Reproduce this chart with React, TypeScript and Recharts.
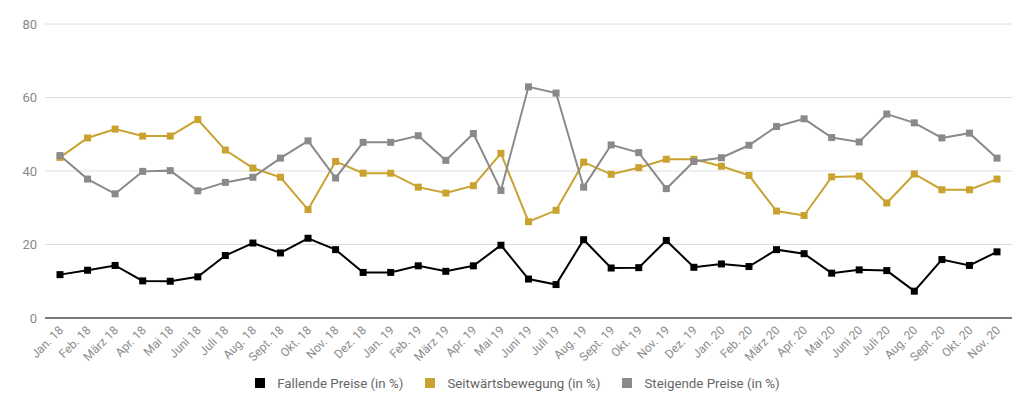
import { LineChart, Line, XAxis, YAxis, CartesianGrid, Legend } from 'recharts';

const months = [
  'Jan. 18', 'Feb. 18', 'März 18', 'Apr. 18', 'Mai 18', 'Juni 18', 'Juli 18', 'Aug. 18', 'Sept. 18', 'Okt. 18', 'Nov. 18', 'Dez. 18',
  'Jan. 19', 'Feb. 19', 'März 19', 'Apr. 19', 'Mai 19', 'Juni 19', 'Juli 19', 'Aug. 19', 'Sept. 19', 'Okt. 19', 'Nov. 19', 'Dez. 19',
  'Jan. 20', 'Feb. 20', 'März 20', 'Apr. 20', 'Mai 20', 'Juni 20', 'Juli 20', 'Aug. 20', 'Sept. 20', 'Okt. 20', 'Nov. 20',
];

const fallend = [
  11.8, 13.0, 14.3, 10.1, 10.0, 11.2, 17.0, 20.4, 17.7, 21.7, 18.6, 12.4,
  12.4, 14.2, 12.7, 14.2, 19.8, 10.6, 9.1, 21.3, 13.6, 13.7, 21.1, 13.8,
  14.7, 14.0, 18.6, 17.5, 12.2, 13.1, 12.9, 7.3, 15.9, 14.3, 18.0,
];

const seitwaerts = [
  43.7, 49.0, 51.4, 49.5, 49.5, 54.0, 45.7, 40.8, 38.3, 29.5, 42.6, 39.4,
  39.4, 35.6, 34.0, 36.0, 44.8, 26.2, 29.3, 42.4, 39.1, 40.9, 43.2, 43.2,
  41.3, 38.8, 29.1, 27.9, 38.4, 38.6, 31.3, 39.2, 34.9, 34.9, 37.8,
];

const steigend = [
  44.2, 37.8, 33.8, 39.9, 40.1, 34.6, 36.9, 38.3, 43.5, 48.2, 38.1, 47.8,
  47.8, 49.6, 42.9, 50.2, 34.7, 62.9, 61.2, 35.6, 47.1, 45.0, 35.2, 42.6,
  43.6, 47.0, 52.1, 54.2, 49.1, 47.9, 55.5, 53.1, 49.0, 50.3, 43.5,
];

const yTicks = [0, 20, 40, 60, 80];

const data = months.map((m, i) => ({
  month: m,
  fallend: fallend[i],
  seitwaerts: seitwaerts[i],
  steigend: steigend[i],
}));

const BLACK = '#000000';
const GOLD = '#c9a230';
const GREY = '#8a8a8a';

function SquareDot(props: any) {
  const { cx, cy, stroke, index } = props;
  if (cx == null || cy == null) return null;
  return <rect key={index} x={cx - 3.5} y={cy - 3.5} width={7} height={7} fill={stroke} />;
}

function XTick(props: any) {
  const { x, y, payload } = props;
  return (
    <g transform={`translate(${x + 4},${y + 5})`}>
      <text textAnchor="end" fill="#8c8c8c" fontSize={12} transform="rotate(-45)">
        {payload.value}
      </text>
    </g>
  );
}

function LegendBox(props: any) {
  const { payload } = props;
  return (
    <div
      style={{
        display: 'flex',
        justifyContent: 'center',
        alignItems: 'center',
        height: 20,
        paddingLeft: 40,
        fontSize: 13.3,
        color: '#666',
      }}
    >
      {payload.map((p: any) => (
        <div key={p.value} style={{ display: 'flex', alignItems: 'center', marginRight: 22 }}>
          <span style={{ width: 10, height: 10, background: p.color, marginRight: 12, display: 'inline-block' }} />
          <span>{p.value}</span>
        </div>
      ))}
    </div>
  );
}

export default function App() {
  return (
    <div style={{ position: 'absolute', left: 0, top: 0, fontFamily: 'Roboto, sans-serif' }}>
      <LineChart width={1024} height={403} data={data} margin={{ top: 24, right: 12, bottom: 10, left: 5 }}>
        <CartesianGrid vertical={false} stroke="#dedede" />
        <XAxis
          dataKey="month"
          interval={0}
          tick={<XTick />}
          tickLine={false}
          axisLine={{ stroke: '#555', strokeWidth: 1.5 }}
          padding={{ left: 15, right: 15 }}
          height={55}
        />
        <YAxis
          domain={[0, 80]}
          ticks={yTicks}
          width={40}
          tickLine={false}
          axisLine={false}
          tick={{ fill: '#888', fontSize: 13 }}
        />
        <Legend content={<LegendBox />} />
        <Line
          type="linear"
          dataKey="fallend"
          name="Fallende Preise (in %)"
          stroke={BLACK}
          strokeWidth={2}
          dot={<SquareDot />}
          isAnimationActive={false}
        />
        <Line
          type="linear"
          dataKey="seitwaerts"
          name="Seitwärtsbewegung (in %)"
          stroke={GOLD}
          strokeWidth={2}
          dot={<SquareDot />}
          isAnimationActive={false}
        />
        <Line
          type="linear"
          dataKey="steigend"
          name="Steigende Preise (in %)"
          stroke={GREY}
          strokeWidth={2}
          dot={<SquareDot />}
          isAnimationActive={false}
        />
      </LineChart>
    </div>
  );
}
